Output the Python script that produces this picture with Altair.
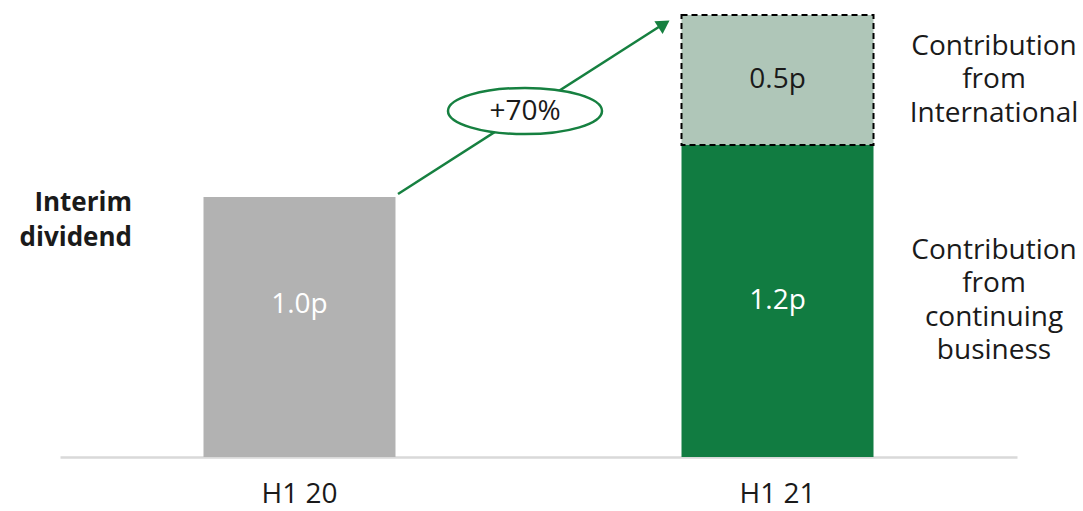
import altair as alt
import pandas as pd

# ---- data ----
periods = ["H1 20", "H1 21", "H1 21"]
segments = ["Interim dividend", "Continuing business", "International"]
values = [1.0, 1.2, 0.5]
labels = ["1.0p", "1.2p", "0.5p"]
seg_colors = ["#b2b2b2", "#117c41", "#afc6b8"]
label_colors = ["#ffffff", "#ffffff", "#1a1a1a"]
side_notes = ["", "Contribution\nfrom\ncontinuing\nbusiness", "Contribution\nfrom\nInternational"]
growth_label = "+70%"
left_title = "Interim dividend"

rows = []
base = {}
for p, s, v, l, lc, n in zip(periods, segments, values, labels, label_colors, side_notes):
    b = base.get(p, 0.0)
    rows.append(dict(period=p, segment=s, lo=b, hi=b + v, mid=b + v / 2, label=l, lcolor=lc, note=n))
    base[p] = b + v
df = pd.DataFrame(rows)

FONT = "Open Sans"
FS = 28
GREEN = "#168040"
W, H = 957, 442
LH = 33.5

x_enc = alt.X("period:N", title=None, sort=["H1 20", "H1 21"],
              scale=alt.Scale(paddingInner=0.598, paddingOuter=0.3),
              axis=alt.Axis(labelAngle=0, labelFontSize=FS, labelFont=FONT, labelColor="#1a1a1a",
                            ticks=False, domainColor="#d9d9d9", domainWidth=2.5, labelPadding=23))
y_scale = alt.Scale(domain=[0, 1.7], nice=False, zero=True)

base_chart = alt.Chart(df)

bars = base_chart.mark_bar(size=192).encode(
    x=x_enc,
    y=alt.Y("lo:Q", scale=y_scale, axis=None),
    y2="hi:Q",
    color=alt.Color("segment:N", scale=alt.Scale(domain=segments, range=seg_colors), legend=None),
)

dashed = base_chart.transform_filter(alt.datum.segment == "International").mark_bar(
    size=192, fillOpacity=0, stroke="#000000", strokeWidth=2, strokeDash=[6, 4]
).encode(x=alt.X("period:N", sort=["H1 20", "H1 21"]), y=alt.Y("lo:Q", scale=y_scale), y2="hi:Q")

seg_text = base_chart.transform_filter(alt.datum.period == "H1 21").mark_text(
    font=FONT, fontSize=FS, baseline="middle"
).encode(
    x=alt.X("period:N", sort=["H1 20", "H1 21"]),
    y=alt.Y("mid:Q", scale=y_scale),
    text="label:N",
    color=alt.Color("lcolor:N", scale=None),
)

first_text = base_chart.transform_filter(alt.datum.period == "H1 20").mark_text(
    font=FONT, fontSize=FS, baseline="middle", dy=-22
).encode(
    x=alt.X("period:N", sort=["H1 20", "H1 21"]),
    y=alt.Y("mid:Q", scale=y_scale),
    text="label:N",
    color=alt.Color("lcolor:N", scale=None),
)


def note_layer(segment, n_lines):
    return base_chart.transform_filter(alt.datum.segment == segment).transform_calculate(
        lines="split(datum.note, '\\n')"
    ).mark_text(font=FONT, fontSize=FS, baseline="middle", align="center", lineHeight=LH,
                color="#1a1a1a", dy=-(n_lines - 1) * LH / 2).encode(
        x=alt.value(934),
        y=alt.Y("mid:Q", scale=y_scale),
        text="lines:N",
    )


notes_int = note_layer("International", 3)
notes_cont = note_layer("Continuing business", 4)

ann_df = pd.DataFrame({"t": [left_title.replace(" ", "\n")]})
left = alt.Chart(ann_df).transform_calculate(lines="split(datum.t, '\\n')").mark_text(
    font=FONT, fontSize=26, fontWeight="bold", align="right", baseline="middle", lineHeight=35, color="#1a1a1a"
).encode(x=alt.value(72), y=alt.value(188), text="lines:N")

arrow_line = alt.Chart(pd.DataFrame({"a": [0]})).mark_rule(color=GREEN, strokeWidth=2.5).encode(
    x=alt.value(338), y=alt.value(179), x2=alt.value(605), y2=alt.value(8)
)
arrow_head = alt.Chart(pd.DataFrame({"a": [0]})).mark_point(
    shape="triangle-up", filled=True, color=GREEN, size=230, angle=57, opacity=1
).encode(x=alt.value(604), y=alt.value(9))

ellipse = alt.Chart(pd.DataFrame({"a": [0]})).mark_point(
    shape="M -1 0 A 1 0.3 0 1 0 1 0 A 1 0.3 0 1 0 -1 0 Z",
    filled=False, fill="#ffffff", fillOpacity=1, stroke=GREEN, strokeWidth=2.5, size=154 * 154, opacity=1
).encode(x=alt.value(465), y=alt.value(96))

growth = alt.Chart(pd.DataFrame({"t": [growth_label]})).mark_text(
    font=FONT, fontSize=FS, color="#1a1a1a", baseline="middle"
).encode(x=alt.value(465), y=alt.value(97), text="t:N")

chart = alt.layer(bars, dashed, first_text, seg_text, notes_int, notes_cont, left,
                  arrow_line, arrow_head, ellipse, growth).properties(
    width=W, height=H,
    padding={"left": 60, "top": 15, "right": 66, "bottom": 54},
    autosize=alt.AutoSizeParams(type="none"),
    background="#ffffff",
).configure_view(stroke=None)

chart.save("out.html", embed_options={"renderer": "svg", "actions": False})
